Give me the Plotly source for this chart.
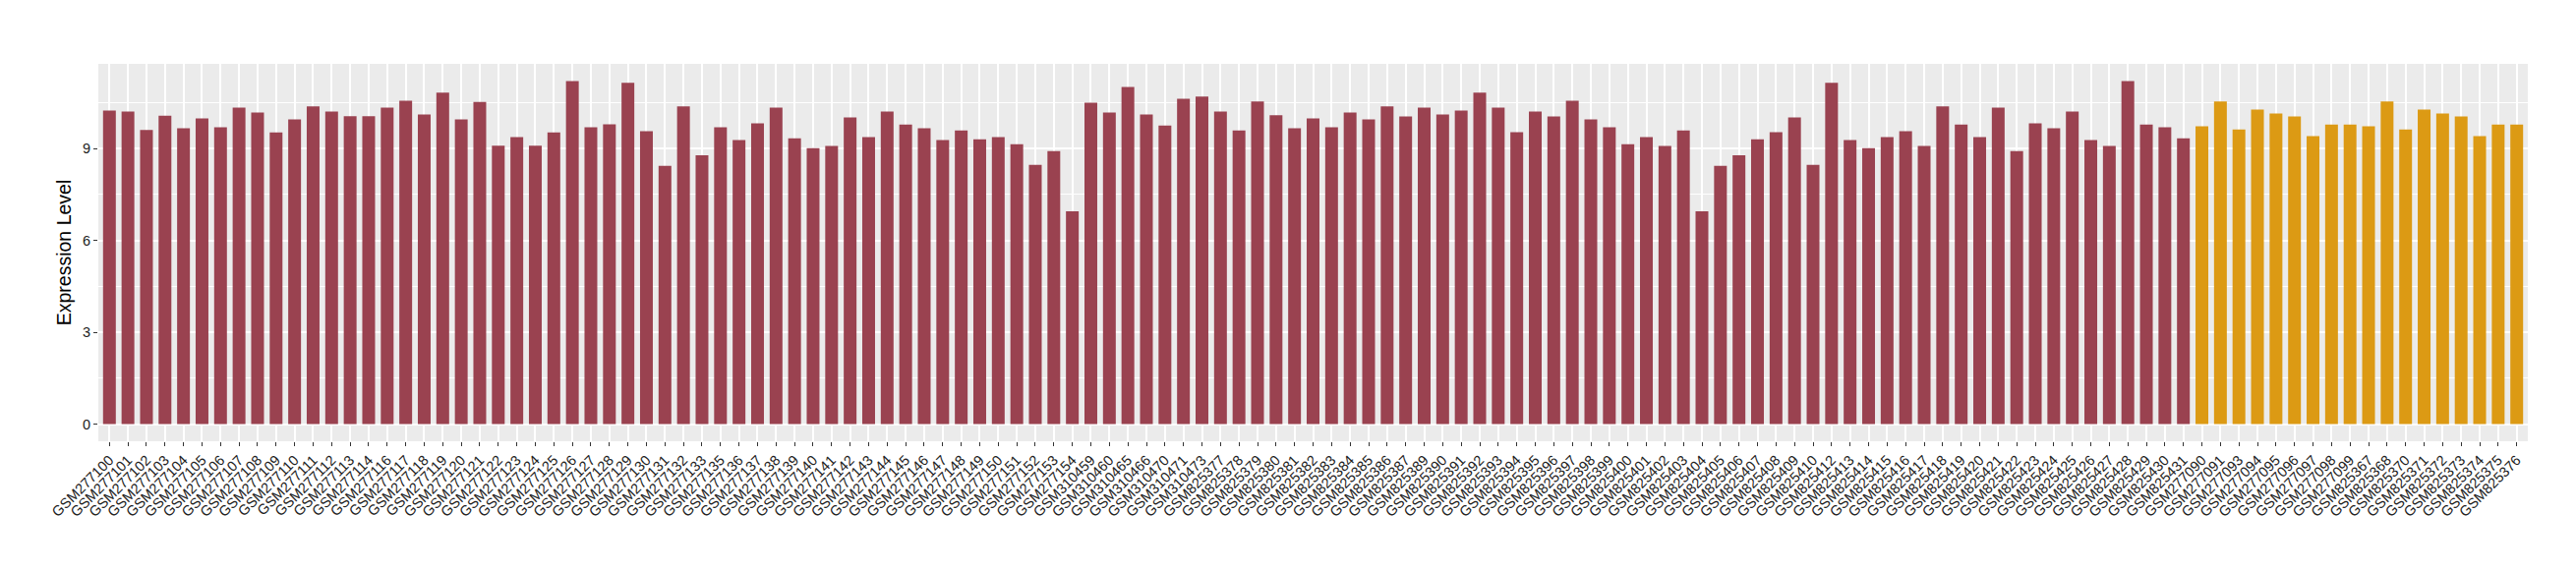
import plotly.graph_objects as go

samples_a = (
    [f"GSM2771{n:02d}" for n in list(range(0, 15)) + list(range(16, 34)) + list(range(35, 55))]
    + ["GSM310459", "GSM310460", "GSM310465", "GSM310466", "GSM310470", "GSM310471", "GSM310473"]
    + [f"GSM825{n}" for n in list(range(377, 388)) + list(range(389, 411)) + list(range(412, 432))]
)
samples_b = (
    ["GSM277090", "GSM277091", "GSM277093", "GSM277094", "GSM277095",
     "GSM277096", "GSM277097", "GSM277098", "GSM277099"]
    + ["GSM825367", "GSM825368", "GSM825370", "GSM825371", "GSM825372",
       "GSM825373", "GSM825374", "GSM825375", "GSM825376"]
)

values_a = [
    10.24, 10.20, 9.60, 10.07, 9.66, 9.98, 9.69, 10.33, 10.17, 9.52,
    9.95, 10.37, 10.20, 10.05, 10.05, 10.33, 10.56, 10.11, 10.82, 9.95,
    10.52, 9.09, 9.37, 9.09, 9.52, 11.20, 9.69, 9.79, 11.14, 9.56,
    8.43, 10.37, 8.78, 9.69, 9.27, 9.82, 10.33, 9.33, 9.01, 9.08,
    10.01, 9.37, 10.20, 9.78, 9.66, 9.27, 9.59, 9.30, 9.37, 9.14,
    8.46, 8.91, 6.95, 10.49, 10.17, 11.01, 10.11, 9.75, 10.62, 10.69,
    10.20, 9.59, 10.53, 10.08, 9.66, 9.98, 9.69, 10.17, 9.95, 10.37,
    10.04, 10.33, 10.11, 10.24, 10.82, 10.33, 9.53, 10.20, 10.04, 10.56,
    9.95, 9.69, 9.14, 9.37, 9.08, 9.59, 6.95, 8.43, 8.78, 9.30,
    9.53, 10.01, 8.46, 11.14, 9.27, 9.01, 9.37, 9.56, 9.08, 10.37,
    9.78, 9.37, 10.33, 8.91, 9.82, 9.66, 10.20, 9.27, 9.08, 11.20,
    9.78, 9.69, 9.33,
]
values_b = [
    9.72, 10.53, 9.62, 10.27, 10.14, 10.04, 9.40, 9.78, 9.78,
    9.72, 10.53, 9.62, 10.27, 10.14, 10.04, 9.40, 9.78, 9.78,
]

categories = samples_a + samples_b
y_ticks = [0, 3, 6, 9]
y_minor = [1.5, 4.5, 7.5, 10.5]

fig = go.Figure()
fig.add_trace(go.Bar(x=samples_a, y=values_a, marker=dict(color="#9A4250", line=dict(width=0)), showlegend=False))
fig.add_trace(go.Bar(x=samples_b, y=values_b, marker=dict(color="#DC9A14", line=dict(width=0)), showlegend=False))

fig.update_layout(
    width=2620, height=580,
    margin=dict(l=92, r=57, t=57, b=139),
    paper_bgcolor="white", plot_bgcolor="#EBEBEB",
    bargap=0.31,
    font=dict(family="Liberation Sans, Arial, sans-serif", color="#333333"),
)
fig.update_xaxes(
    type="category", categoryorder="array", categoryarray=categories,
    range=[-0.6, len(categories) - 0.4],
    tickangle=-45, tickfont=dict(size=14.5, color="#222222"),
    showgrid=True, gridcolor="white", gridwidth=1.5,
    ticks="outside", ticklen=4, tickcolor="#333333", tickwidth=1,
    showline=False, zeroline=False, automargin=False,
)
fig.update_yaxes(
    range=[-0.56, 11.76], tickvals=y_ticks, ticktext=[str(v) for v in y_ticks],
    tickfont=dict(size=14.5, color="#222222"),
    showgrid=True, gridcolor="white", gridwidth=2,
    minor=dict(tickvals=y_minor, showgrid=True, gridcolor="white", gridwidth=1, ticks=""),
    ticks="outside", ticklen=4, tickcolor="#333333", tickwidth=1,
    zeroline=False, showline=False, automargin=False,
    title=dict(text="Expression Level", font=dict(size=19.5, color="black"), standoff=6),
)

fig.write_html("out.html")
